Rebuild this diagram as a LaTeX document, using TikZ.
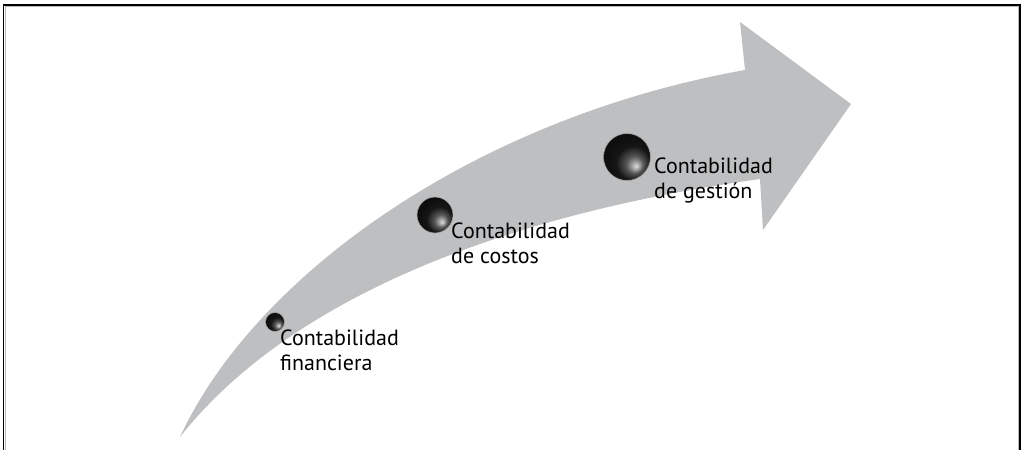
\documentclass[tikz,border=0pt]{standalone}
\usepackage{fontspec}
\setmainfont{PT Sans}
\definecolor{arrowgray}{RGB}{190,191,193}
\tikzset{
  ball/.style={circle, inner sep=0pt, ball color=black!88, shading angle=180,
    draw=gray!70, line width=0.6pt},
  lbl/.style={anchor=base west, align=left, inner sep=0pt,
    font=\fontsize{22}{25}\selectfont}
}

\begin{document}
\begin{tikzpicture}[x=1pt, y=-1pt]
  \useasboundingbox (0,0) rectangle (1028,450);
  % frame
  \draw[gray!55, line width=1pt] (5.5,450) -- (5.5,6.5) -- (1018.5,6.5) -- (1018.5,450);
  \draw[line width=1.3pt] (3.5,450) -- (3.5,5) -- (1020,5) -- (1020,450);
  % arrow
  \fill[arrowgray] (180,437) .. controls (255,275) and (475,118) .. (745,70)
    -- (740,22) -- (851,104) -- (763,230) -- (760,179)
    .. controls (500,215) and (288,300) .. cycle;
  % nodes
  \node[ball, minimum size=19pt] (small) at (275,322) {};
  \node[ball, minimum size=36pt] (mid) at (435,215) {};
  \node[ball, minimum size=47pt] (big) at (627,157) {};
  % labels
  \node[lbl] (fin) at (280,370) {Contabilidad\\financiera};
  \node[lbl] (cost) at (451,263) {Contabilidad\\de costos};
  \node[lbl] (gest) at (654,198) {Contabilidad\\de gestión};
\end{tikzpicture}
\end{document}
